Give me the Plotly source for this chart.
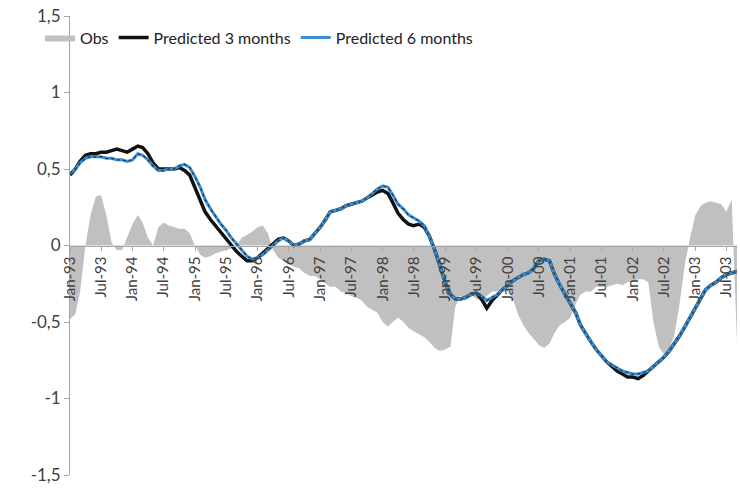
import pandas as pd
import plotly.graph_objects as go

# Monthly observations, Jan-1993 .. Sep-2003
months = pd.date_range("1993-01-01", periods=129, freq="MS")

obs = [
    -0.48, -0.45, -0.30, 0.00, 0.20, 0.32, 0.33, 0.20, 0.02, -0.03,
    -0.03, 0.05, 0.14, 0.20, 0.15, 0.05, 0.00, 0.12, 0.15, 0.13,
    0.12, 0.11, 0.11, 0.08, 0.00, -0.06, -0.08, -0.07, -0.05, -0.04,
    -0.03, -0.02, 0.00, 0.05, 0.07, 0.09, 0.12, 0.13, 0.08, -0.03,
    -0.08, -0.10, -0.12, -0.14, -0.15, -0.18, -0.20, -0.20, -0.22, -0.25,
    -0.27, -0.27, -0.30, -0.31, -0.33, -0.34, -0.36, -0.40, -0.42, -0.44,
    -0.50, -0.53, -0.50, -0.47, -0.50, -0.54, -0.56, -0.58, -0.60, -0.63,
    -0.67, -0.69, -0.68, -0.66, -0.40, -0.33, -0.34, -0.32, -0.35, -0.36,
    -0.33, -0.30, -0.30, -0.28, -0.30, -0.35, -0.45, -0.52, -0.57, -0.61,
    -0.65, -0.67, -0.64, -0.57, -0.52, -0.50, -0.47, -0.38, -0.32, -0.30,
    -0.30, -0.27, -0.27, -0.27, -0.26, -0.25, -0.26, -0.24, -0.23, -0.22,
    -0.22, -0.24, -0.50, -0.66, -0.71, -0.68, -0.58, -0.38, -0.12, 0.05,
    0.20, 0.26, 0.28, 0.29, 0.28, 0.27, 0.22, 0.30, -0.63,
]

pred_3m = [
    0.46, 0.50, 0.55, 0.59, 0.60, 0.60, 0.61, 0.61, 0.62, 0.63,
    0.62, 0.61, 0.63, 0.65, 0.64, 0.60, 0.54, 0.50, 0.50, 0.50,
    0.50, 0.51, 0.49, 0.46, 0.38, 0.30, 0.22, 0.17, 0.13, 0.08,
    0.04, 0.00, -0.04, -0.07, -0.10, -0.10, -0.08, -0.05, -0.02, 0.01,
    0.04, 0.05, 0.03, 0.00, 0.01, 0.03, 0.04, 0.08, 0.12, 0.17,
    0.22, 0.23, 0.24, 0.26, 0.27, 0.28, 0.29, 0.31, 0.33, 0.35,
    0.36, 0.34, 0.28, 0.21, 0.17, 0.14, 0.13, 0.14, 0.12, 0.06,
    -0.03, -0.14, -0.24, -0.32, -0.35, -0.35, -0.34, -0.32, -0.31, -0.35,
    -0.41, -0.36, -0.32, -0.29, -0.26, -0.23, -0.21, -0.19, -0.18, -0.15,
    -0.10, -0.09, -0.10, -0.19, -0.26, -0.32, -0.38, -0.44, -0.52, -0.58,
    -0.63, -0.68, -0.72, -0.76, -0.79, -0.82, -0.84, -0.86, -0.86, -0.87,
    -0.85, -0.82, -0.79, -0.76, -0.73, -0.69, -0.64, -0.59, -0.53, -0.47,
    -0.40, -0.34, -0.29, -0.26, -0.24, -0.21, -0.19, -0.18, -0.17,
]

pred_6m = [
    0.47, 0.50, 0.54, 0.57, 0.58, 0.58, 0.58, 0.57, 0.57, 0.56,
    0.56, 0.55, 0.56, 0.60, 0.59, 0.56, 0.52, 0.49, 0.49, 0.50,
    0.50, 0.52, 0.53, 0.51, 0.45, 0.38, 0.30, 0.24, 0.19, 0.14,
    0.10, 0.05, 0.01, -0.03, -0.07, -0.09, -0.08, -0.06, -0.03, 0.00,
    0.03, 0.05, 0.03, 0.00, 0.01, 0.03, 0.04, 0.08, 0.12, 0.17,
    0.22, 0.23, 0.24, 0.26, 0.27, 0.28, 0.29, 0.31, 0.34, 0.37,
    0.39, 0.38, 0.33, 0.27, 0.24, 0.20, 0.18, 0.16, 0.13, 0.06,
    -0.03, -0.14, -0.24, -0.32, -0.35, -0.35, -0.34, -0.32, -0.31, -0.33,
    -0.36, -0.34, -0.32, -0.29, -0.26, -0.23, -0.21, -0.19, -0.18, -0.15,
    -0.10, -0.09, -0.10, -0.19, -0.26, -0.32, -0.38, -0.44, -0.52, -0.58,
    -0.63, -0.68, -0.72, -0.76, -0.78, -0.80, -0.82, -0.83, -0.84, -0.84,
    -0.83, -0.82, -0.79, -0.76, -0.73, -0.69, -0.64, -0.59, -0.53, -0.47,
    -0.40, -0.34, -0.29, -0.26, -0.24, -0.21, -0.19, -0.18, -0.17,
]

y_ticks = [-1.5, -1, -0.5, 0, 0.5, 1, 1.5]
y_tick_text = ["-1,5", "-1", "-0,5", "0", "0,5", "1", "1,5"]

FONT = "Lato, 'Open Sans', sans-serif"
AXIS_GREY = "#a6a6a6"
TEXT = "#404040"

# paper starts 30px left of the plot area so the legend can sit over the y axis
LEFT, PLOT_LEFT, RIGHT, WIDTH = 40, 70, 3, 740
x_dom0 = (PLOT_LEFT - LEFT) / (WIDTH - LEFT - RIGHT)

fig = go.Figure()

fig.add_trace(go.Scatter(
    x=months, y=obs, name="Obs", mode="lines",
    line=dict(width=0, color="#c0c0c0"),
    fill="tozeroy", fillcolor="#c0c0c0",
))

fig.add_trace(go.Scatter(
    x=months, y=pred_3m, name="Predicted 3 months", mode="lines",
    line=dict(color="#111111", width=3.5),
))

fig.add_trace(go.Scatter(
    x=months, y=pred_6m, name="Predicted 6 months", mode="lines",
    line=dict(color="#3a8fd6", width=3),
))

# dark dotted core of the 6-month line
fig.add_trace(go.Scatter(
    x=months, y=pred_6m, mode="lines", showlegend=False, hoverinfo="skip",
    line=dict(color="#1d3f52", width=1.3, dash="dot"),
))

fig.update_layout(
    width=WIDTH, height=488,
    margin=dict(l=LEFT, r=RIGHT, t=16, b=10),
    paper_bgcolor="white", plot_bgcolor="white",
    font=dict(family=FONT, color=TEXT),
    showlegend=True,
    legend=dict(
        orientation="h", x=0.0, y=0.99, xanchor="left", yanchor="top",
        font=dict(size=16, family=FONT, color="#222222"),
        bgcolor="rgba(0,0,0,0)", itemwidth=30, tracegroupgap=0,
    ),
    xaxis=dict(
        type="date", domain=[x_dom0, 1],
        range=["1993-01-01", "2003-09-01"],
        tick0="1993-01-01", dtick="M6", tickformat="%b-%y",
        tickangle=-90,
        tickfont=dict(size=15, family=FONT, color=TEXT),
        anchor="free", position=0.5,
        showline=True, linecolor=AXIS_GREY, linewidth=1,
        ticks="outside", ticklen=4, tickcolor=AXIS_GREY,
        showgrid=False, zeroline=False,
    ),
    yaxis=dict(
        range=[-1.5, 1.5],
        tickvals=y_ticks, ticktext=y_tick_text,
        tickfont=dict(size=17, family=FONT, color=TEXT),
        showline=True, linecolor=AXIS_GREY, linewidth=1,
        ticks="outside", ticklen=5, tickcolor=AXIS_GREY,
        showgrid=False, zeroline=False,
    ),
)

fig.write_html("out.html")
